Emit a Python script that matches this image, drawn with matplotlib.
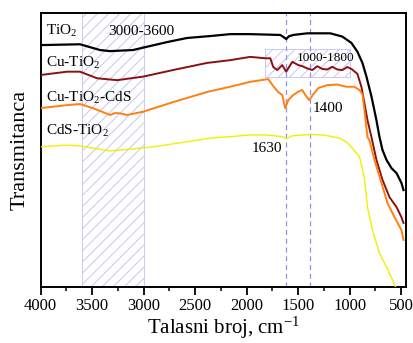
import matplotlib
matplotlib.use("Agg")
import matplotlib.pyplot as plt
from matplotlib.ticker import MultipleLocator

plt.rcParams['font.family'] = ['Liberation Serif', 'DejaVu Serif']
plt.rcParams['mathtext.fontset'] = 'custom'
plt.rcParams['mathtext.rm'] = 'Liberation Serif'
plt.rcParams['mathtext.it'] = 'Liberation Serif:italic'
plt.rcParams['hatch.linewidth'] = 0.7

# ---- data (wavenumber cm^-1, transmittance a.u.) ----
wn_tio2 = [4000, 3618, 3424, 3326, 3103, 2967, 2772, 2578, 2354, 2160, 1965, 1673, 1640, 1615,
           1590, 1547, 1411, 1187, 1070, 982, 924, 875, 836, 787, 739, 710, 680, 641, 593, 544, 496, 476]
t_tio2 = [88.3, 88.6, 86.5, 86.1, 86.5, 87.7, 89.4, 90.9, 91.6, 92.3, 92.3, 92.0, 91.2, 90.5,
          91.5, 92.0, 92.6, 92.6, 91.4, 89.1, 85.9, 81.8, 76.8, 69.5, 60.9, 54.9, 50.0, 46.4, 43.4, 41.6, 38.0, 35.4]

wn_cutio2 = [4000, 3744, 3618, 3453, 3258, 3005, 2714, 2383, 2160, 1965, 1819, 1770, 1741, 1702,
             1654, 1615, 1556, 1498, 1459, 1411, 1362, 1313, 1265, 1216, 1168, 1119, 1070, 1022, 982,
             924, 885, 856, 826, 787, 739, 680, 612, 544, 496, 476]
t_cutio2 = [77.4, 78.6, 78.6, 76.2, 75.5, 76.8, 79.2, 81.8, 82.8, 84.0, 83.5, 83.5, 80.3, 79.2,
            81.0, 78.6, 82.2, 81.0, 80.6, 79.8, 79.2, 80.6, 79.6, 79.4, 80.4, 79.4, 79.2, 80.3, 79.6,
            77.8, 73.1, 67.2, 60.9, 54.7, 46.4, 39.1, 32.8, 29.2, 25.5, 23.4]

wn_cutio2cds = [4000, 3744, 3618, 3492, 3326, 3278, 3229, 3161, 3005, 2714, 2383, 2160, 1965, 1790,
                1741, 1693, 1654, 1625, 1595, 1547, 1498, 1459, 1430, 1391, 1352, 1304, 1216, 1119,
                1031, 953, 904, 875, 856, 826, 807, 758, 690, 632, 563, 496, 476]
t_cutio2cds = [65.3, 66.4, 66.8, 65.3, 62.8, 63.5, 63.4, 62.8, 64.0, 67.5, 71.2, 73.1, 74.9, 75.9,
               73.3, 71.2, 70.1, 65.3, 68.2, 70.1, 71.3, 71.9, 70.1, 68.2, 70.4, 72.6, 73.7, 73.9,
               73.1, 73.1, 71.9, 70.4, 64.6, 54.7, 53.6, 46.4, 38.0, 30.7, 25.5, 20.8, 17.2]

wn_cdstio2 = [4000, 3744, 3618, 3492, 3326, 3103, 2908, 2578, 2354, 2160, 1965, 1799, 1654, 1615,
              1556, 1382, 1255, 1099, 1031, 972, 904, 856, 826, 778, 710, 641, 583, 544]
t_cdstio2 = [51.2, 51.8, 51.5, 50.7, 49.7, 50.4, 51.2, 53.0, 54.4, 54.9, 55.5, 55.5, 54.9, 54.2,
             55.2, 55.7, 55.5, 54.4, 53.0, 50.7, 47.6, 39.8, 29.2, 20.8, 12.4, 7.3, 2.6, -0.7]

series_labels = ['TiO$_2$', 'Cu-TiO$_2$', 'Cu-TiO$_2$-CdS', 'CdS-TiO$_2$']
series_colors = ['#000000', '#8b1010', '#ff7f10', '#f0f000']
band_ir = (3000, 3600)
band_fp = (1000, 1820)
peaks = [1620, 1380]

fig = plt.figure(figsize=(4.13, 3.43), dpi=100)
ax = fig.add_axes([0.0985, 0.163, 0.885, 0.799])

hatch_col = '#c8c8f2'
ax.axvspan(band_ir[0], band_ir[1], facecolor='none', edgecolor=hatch_col, hatch='///', lw=0.7, zorder=0)
ax.fill_between(band_fp, [76.6, 76.6], [86.9, 86.9], facecolor='none', edgecolor=hatch_col,
                hatch='///', lw=0.7, zorder=0)
for p in peaks:
    ax.axvline(p, color='#9090f0', lw=0.9, ls=(0, (4, 3)), zorder=1)

ax.plot(wn_tio2, t_tio2, color=series_colors[0], lw=1.6, zorder=3)
ax.plot(wn_cutio2, t_cutio2, color=series_colors[1], lw=1.4, zorder=3)
ax.plot(wn_cutio2cds, t_cutio2cds, color=series_colors[2], lw=1.4, zorder=3)
ax.plot(wn_cdstio2, t_cdstio2, color=series_colors[3], lw=1.0, zorder=3)

label_y = [92.0, 80.4, 67.6, 55.5]
for lab, yy in zip(series_labels, label_y):
    ax.text(3945, yy, lab, fontsize=11, ha='left', va='baseline')
ax.text(3345, 92.0, '3000-3600', fontsize=11, ha='left', va='baseline')
ax.text(1515, 82.6, '1000-1800', fontsize=9.5, ha='left', va='baseline')
ax.text(1362, 64.0, '1400', fontsize=11, ha='left', va='baseline')
ax.text(1955, 49.4, '1630', fontsize=11, ha='left', va='baseline')

ax.set_xlim(4000, 450)
ax.set_ylim(0, 100)
ax.xaxis.set_major_locator(MultipleLocator(500))
ax.xaxis.set_minor_locator(MultipleLocator(250))
ax.set_yticks([])
ax.tick_params(axis='x', which='major', direction='out', length=5.5, width=1.3, labelsize=12, pad=2)
ax.tick_params(axis='x', which='minor', direction='out', length=3, width=1.1)
for s in ax.spines.values():
    s.set_linewidth(1.4)

ax.set_xlabel('Talasni broj, cm$^{-1}$', fontsize=15, labelpad=1)
ax.set_ylabel('Transmitanca', fontsize=16, labelpad=8)

fig.savefig('out.png', dpi=100)
